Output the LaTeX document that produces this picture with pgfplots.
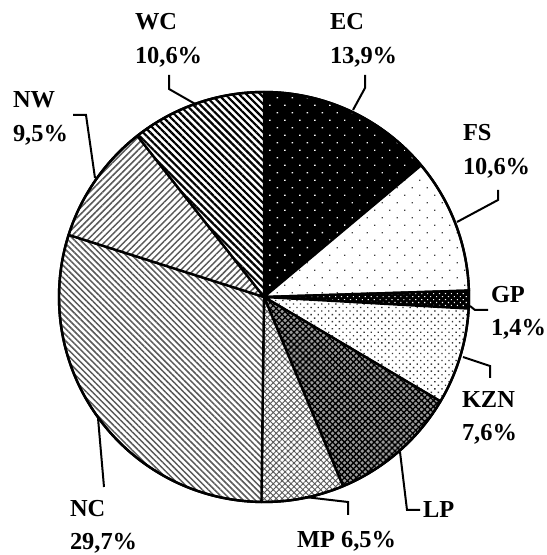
\documentclass[border=0pt]{standalone}
\usepackage{fontspec}
\setmainfont{Liberation Serif}
\usepackage{pgfplots}
\usepackage{pgfplotstable}
\pgfplotsset{compat=1.18}
\usetikzlibrary{patterns.meta}

\pgfplotstableread{
name value
EC 13.9
FS 10.6
GP 1.4
KZN 7.6
LP 10.2
MP 6.5
NC 29.7
NW 9.5
WC 10.6
}\piedata

\tikzset{
 slice0/.style={preaction={fill=black}, pattern={Dots[angle=45,distance=10.6bp,radius=1bp]}, pattern color=white},
 slice1/.style={preaction={fill=white}, pattern={Dots[angle=45,distance=10.6bp,radius=0.9bp]}, pattern color=black!75},
 slice2/.style={preaction={fill=black}, pattern={Dots[angle=45,distance=4.2bp,radius=0.8bp]}, pattern color=white},
 slice3/.style={preaction={fill=white}, pattern={Dots[angle=45,distance=5bp,radius=0.95bp]}, pattern color=black!80},
 slice4/.style={preaction={fill=black!40}, pattern={Hatch[angle=45,distance=4.2bp,line width=1.3bp]}, pattern color=black},
 slice5/.style={preaction={fill=white}, pattern={Hatch[angle=45,distance=4.2bp,line width=0.9bp]}, pattern color=black!65},
 slice6/.style={preaction={fill=white}, pattern={Lines[angle=-45,distance=4.3bp,line width=1.5bp]}, pattern color=black!65},
 slice7/.style={preaction={fill=white}, pattern={Lines[angle=45,distance=4.6bp,line width=1.5bp]}, pattern color=black!65},
 slice8/.style={preaction={fill=white}, pattern={Lines[angle=-45,distance=5bp,line width=2.2bp]}, pattern color=black},
 lbl/.style={anchor=base west, inner sep=0pt, outer sep=0pt, font=\fontsize{24.5}{28}\selectfont\bfseries},
 lead/.style={line width=2bp, black, line join=miter},
}

\begin{document}
\begin{tikzpicture}
\pgfplotstablegetrowsof{\piedata}
\pgfmathtruncatemacro{\nrows}{\pgfplotsretval-1}
\gdef\cumval{0}
\foreach \i in {0,...,\nrows}{
  \pgfplotstablegetelem{\i}{value}\of\piedata
  \let\curval\pgfplotsretval
  \pgfmathsetmacro{\sA}{90-3.6*\cumval}
  \pgfmathsetmacro{\sB}{90-3.6*(\cumval+\curval)}
  \pgfmathsetmacro{\sC}{\cumval+\curval}
  \global\expandafter\let\csname sa\i\endcsname\sA
  \global\expandafter\let\csname sb\i\endcsname\sB
  \global\let\cumval\sC
}
\begin{axis}[scale only axis, width=547bp, height=555bp,
  xmin=0, xmax=547, ymin=0, ymax=555, hide axis, clip=false]
\path (axis cs:0,0) rectangle (axis cs:547,555);
\pgfplotsinvokeforeach{0,...,8}{
  \edef\temp{\noexpand\filldraw[slice#1, draw=black, line width=2.4bp, line join=round]
    (axis cs:264,258) -- ++(\csname sa#1\endcsname:205bp)
    arc[start angle=\csname sa#1\endcsname, end angle=\csname sb#1\endcsname, radius=205bp] -- cycle;}
  \temp
}
\draw[line width=2.4bp] (axis cs:264,258) circle[radius=205bp];

% leader lines
\draw[lead] (axis cs:365,480) -- (axis cs:365,467) -- (axis cs:353,445);
\draw[lead] (axis cs:169,480) -- (axis cs:169,466) -- (axis cs:197,450);
\draw[lead] (axis cs:73,440) -- (axis cs:86,440) -- (axis cs:95,377);
\draw[lead] (axis cs:498,365) -- (axis cs:498,355) -- (axis cs:457,333);
\draw[lead] (axis cs:470,249) -- (axis cs:475,245) -- (axis cs:488,245);
\draw[lead] (axis cs:463,198) -- (axis cs:490,189) -- (axis cs:490,177);
\draw[lead] (axis cs:400,103) -- (axis cs:407,45) -- (axis cs:420,45);
\draw[lead] (axis cs:305,58) -- (axis cs:348,53) -- (axis cs:348,40);
\draw[lead] (axis cs:98,137) -- (axis cs:104,68);

% labels
\node[lbl] at (axis cs:330,525) {EC};
\node[lbl] at (axis cs:330,491) {13,9\%};
\node[lbl] at (axis cs:135,525) {WC};
\node[lbl] at (axis cs:135,491) {10,6\%};
\node[lbl] at (axis cs:13,447) {NW};
\node[lbl] at (axis cs:13,413) {9,5\%};
\node[lbl] at (axis cs:463,414) {FS};
\node[lbl] at (axis cs:463,380) {10,6\%};
\node[lbl] at (axis cs:491,252) {GP};
\node[lbl] at (axis cs:491,219) {1,4\%};
\node[lbl] at (axis cs:462,147) {KZN};
\node[lbl] at (axis cs:462,114) {7,6\%};
\node[lbl] at (axis cs:423,37) {LP};
\node[lbl] at (axis cs:297,8) {MP 6,5\%};
\node[lbl] at (axis cs:70,38) {NC};
\node[lbl] at (axis cs:70,6) {29,7\%};
\end{axis}
\end{tikzpicture}
\end{document}
